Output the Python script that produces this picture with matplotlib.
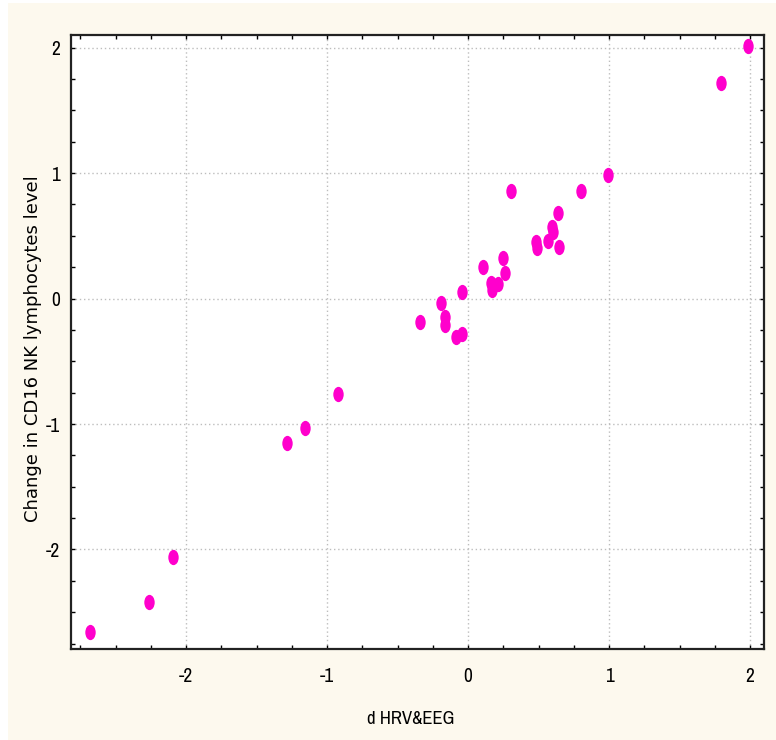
import numpy as np
import matplotlib
matplotlib.use("Agg")
import matplotlib.pyplot as plt
from matplotlib.path import Path
from matplotlib.patches import Rectangle
from matplotlib.ticker import MultipleLocator

# narrow face for the horizontal texts (the original export looks squeezed sideways)
plt.rcParams['font.family'] = ['Archivo Narrow', 'Liberation Sans', 'DejaVu Sans']

# values
d_hrv_eeg = [1.986, 1.792, 0.995, 0.799, 0.303, 0.636, 0.596, 0.605, 0.570, 0.645,
             0.482, 0.487, 0.104, 0.251, 0.262, 0.215, 0.161, 0.168, -0.045, -0.189,
             -0.340, -0.163, -0.163, -0.087, -0.045, -0.920, -1.156, -1.284, -2.090,
             -2.262, -2.681]
cd16_change = [2.012, 1.715, 0.984, 0.857, 0.857, 0.679, 0.572, 0.532, 0.461, 0.408,
               0.453, 0.400, 0.249, 0.320, 0.206, 0.116, 0.121, 0.068, 0.054, -0.038,
               -0.190, -0.145, -0.211, -0.304, -0.285, -0.761, -1.034, -1.154, -2.062,
               -2.418, -2.660]
x_ticks = [-2, -1, 0, 1, 2]
y_ticks = [-2, -1, 0, 1, 2]

fig = plt.figure(figsize=(7.76, 7.40), dpi=100, facecolor='white')
# cream backdrop like the original export
fig.patches.append(Rectangle((8 / 776, 0), 1, 1 - 3 / 740, transform=fig.transFigure,
                             facecolor='#fdf9ee', edgecolor='none', zorder=-10))

ax = fig.add_axes([71 / 776, 1 - 649 / 740, 693 / 776, 614 / 740])
ax.set_facecolor('white')

# upright ellipse marker
circ = Path.unit_circle()
ellipse = Path(circ.vertices * np.array([0.68, 1.0]), circ.codes)

ax.plot(d_hrv_eeg, cd16_change, linestyle='none', marker=ellipse, markersize=11,
        color='#ff00cc', markeredgewidth=0, zorder=3)

ax.set_xlim(-2.816, 2.099)
ax.set_ylim(-2.793, 2.10)
ax.set_xticks(x_ticks)
ax.set_yticks(y_ticks)
ax.set_xticklabels([str(t) for t in x_ticks])
ax.set_yticklabels([str(t) for t in y_ticks])
ax.xaxis.set_minor_locator(MultipleLocator(0.25))
ax.yaxis.set_minor_locator(MultipleLocator(0.25))

ax.grid(True, which='major', color='#bdbdbd', linestyle=(0, (1, 2)), linewidth=1)
ax.set_axisbelow(True)

ax.tick_params(which='both', direction='in', top=True, right=True, length=3, width=1,
               color='black')
ax.tick_params(axis='x', which='major', labelsize=14, pad=13)
ax.tick_params(axis='y', which='major', labelsize=14, pad=8)

for side in ax.spines.values():
    side.set_linewidth(1.6)
    side.set_color('#222222')

ax.set_xlabel('d HRV&EEG', fontsize=13.5)
# rotated label is stretched lengthwise in the original, so a wider face here
ax.set_ylabel('Change in CD16 NK lymphocytes level', fontsize=13,
              family=['DejaVu Sans'])
ax.xaxis.set_label_coords(0.49, -0.101)
ax.yaxis.set_label_coords(-0.042, 0.49)

fig.savefig('out.png', dpi=100, facecolor=fig.get_facecolor())
